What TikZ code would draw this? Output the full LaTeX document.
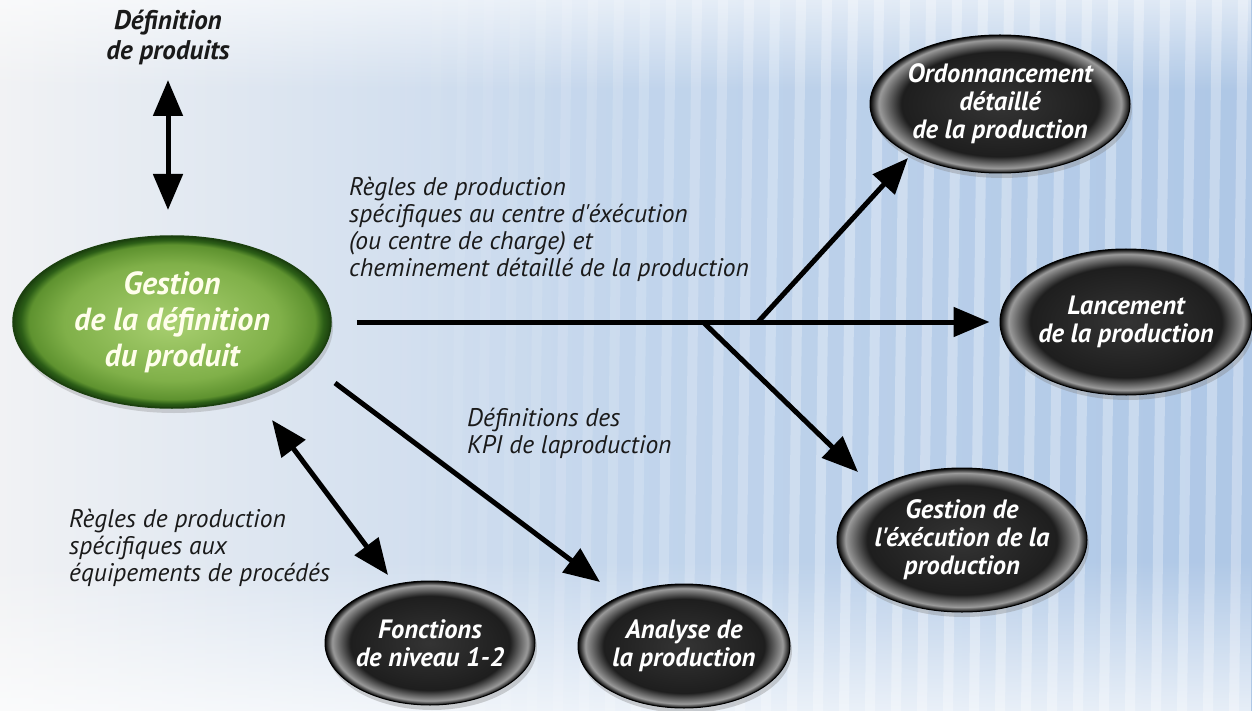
\documentclass[tikz,border=0pt]{standalone}
\usepackage{fontspec}
\setmainfont{PT Sans}[Ligatures=TeXOff]
\usetikzlibrary{arrows.meta,shadows,shapes.geometric,fadings}
\definecolor{bgL}{HTML}{F1F2F4}
\definecolor{bgM}{HTML}{C2D5EC}
\definecolor{bgR}{HTML}{AEC7E6}
\definecolor{dk0}{HTML}{343434}
\definecolor{dk1}{HTML}{1E1E1E}
\definecolor{dk2}{HTML}{9A9A9A}
\definecolor{dk3}{HTML}{050505}
\definecolor{gr0}{HTML}{A9D071}
\definecolor{gr1}{HTML}{80B049}
\definecolor{gr2}{HTML}{5E922F}
\definecolor{gr3}{HTML}{2C5E17}
\definecolor{gr4}{HTML}{1B400E}
\definecolor{txt}{HTML}{1A1A1A}
\pgfdeclareradialshading{darkgloss}{\pgfpoint{0bp}{0bp}}{color(0bp)=(dk0); color(19bp)=(dk1); color(23.3bp)=(dk2); color(25bp)=(dk3); color(50bp)=(dk3)}
\pgfdeclareradialshading{greengloss}{\pgfpoint{0bp}{0bp}}{color(0bp)=(gr0); color(17bp)=(gr1); color(22.5bp)=(gr2); color(23.8bp)=(gr3); color(25bp)=(gr4); color(50bp)=(gr4)}
\begin{document}
\begin{tikzpicture}[x=1pt,y=-1pt,
  darkell/.style={ellipse, shading=darkgloss, draw=black, line width=1pt, inner sep=0pt,
    drop shadow={opacity=0.35, shadow xshift=2pt, shadow yshift=-5pt}},
  greenell/.style={ellipse, shading=greengloss, draw=gr4, line width=1.5pt, inner sep=0pt,
    drop shadow={opacity=0.3, shadow xshift=2pt, shadow yshift=-5pt}},
  dtext/.style={text=white, align=center, font=\bfseries\itshape\fontsize{26.5}{28}\selectfont},
  gtext/.style={text=white!92!yellow, align=center, font=\bfseries\itshape\fontsize{32}{36}\selectfont},
  lbl/.style={text=txt, align=left, font=\itshape\fontsize{25.5}{27}\selectfont, inner sep=0pt},
  blbl/.style={text=txt, align=center, font=\bfseries\itshape\fontsize{27}{30}\selectfont, inner sep=0pt},
  conn/.style={line width=5pt, draw=black, -{Triangle[length=36pt,width=29pt]}},
  biconn/.style={line width=5pt, draw=black, {Triangle[length=36pt,width=29pt]}-{Triangle[length=36pt,width=29pt]}}
]
\useasboundingbox (0,0) rectangle (1252,711);
% background
\fill[left color=bgL, right color=bgR, middle color=bgM] (0,0) rectangle (1252,711);
\foreach \x in {380,406,...,1252} {
  \pgfmathsetmacro{\op}{min(0.3,(\x-360)/1600)}
  \fill[white, opacity=\op] (\x,0) -- (\x+10,0) -- (\x+1,711) -- (\x-9,711) -- cycle;
}
\fill[white, path fading=north, opacity=0.7] (0,560) rectangle (1252,711);
\fill[white, path fading=south, opacity=0.6] (0,0) rectangle (1252,90);

% nodes
\node[greenell, minimum width=318pt, minimum height=172pt] (gest) at (172,322) {};
\node[gtext] at (gest) {Gestion\\de la définition\\du produit};

\node[blbl] (defp) at (168,37) {Définition\\de produits};

\node[darkell, minimum width=260pt, minimum height=138pt] (ord) at (1000,104) {};
\node[dtext] at (ord) {Ordonnancement\\détaillé\\de la production};

\node[darkell, minimum width=252pt, minimum height=146pt] (lanc) at (1126,322) {};
\node[dtext] at (lanc) {Lancement\\de la production};

\node[darkell, minimum width=250pt, minimum height=144pt] (gexe) at (962,540) {};
\node[dtext] at (gexe) {Gestion de\\l'éxécution de la\\production};

\node[darkell, minimum width=210pt, minimum height=124pt] (fonc) at (430,643) {};
\node[dtext] at (fonc) {Fonctions\\de niveau 1-2};

\node[darkell, minimum width=212pt, minimum height=124pt] (anal) at (684,646) {};
\node[dtext] at (anal) {Analyse de\\la production};

% labels
\node[lbl, anchor=north west] (l1) at (349,177) {Règles de production\\spécifiques au centre d'éxécution\\(ou centre de charge) et\\cheminement détaillé de la production};
\node[lbl, anchor=north west] (l2) at (467,408) {Définitions des\\KPI de laproduction};
\node[lbl, anchor=north west] (l3) at (69,509) {Règles de production\\spécifiques aux\\équipements de procédés};

% connectors
\coordinate (b1) at (758,322);
\coordinate (b2) at (703,322);
\coordinate (tOrd) at (908,158);
\coordinate (tGexe) at (858,472);
\coordinate (tFonc) at (388,575);
\coordinate (sFonc) at (272,420);
\coordinate (tAnal) at (600,582);
\coordinate (sAnal) at (335,383);
\coordinate (tDefp) at (168,80);
\coordinate (sDefp) at (168,210);

\draw[biconn] (tDefp) -- (sDefp);
\draw[conn] ([xshift=25pt]gest.east) -- ([xshift=-10pt]lanc.west);
\draw[conn] (b1) -- (tOrd);
\draw[conn] (b2) -- (tGexe);
\draw[biconn] (sFonc) -- (tFonc);
\draw[conn] (sAnal) -- (tAnal);
\end{tikzpicture}
\end{document}
